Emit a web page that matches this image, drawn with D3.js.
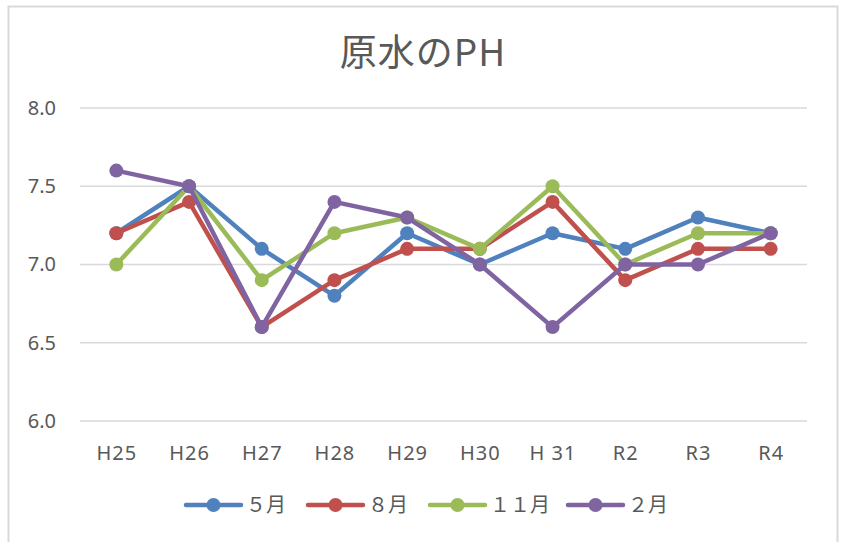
<!DOCTYPE html>
<html>
<head>
<meta charset="utf-8">
<script src="https://cdn.jsdelivr.net/npm/d3@7"></script>
<style>
  body { margin: 0; background: #fff; }
  text { fill: #595959; }
  .y-axis text { font-family: 'Noto Sans', sans-serif; font-size: 20px; }
  .x-axis text { font-family: 'Liberation Sans Narrow', 'Noto Sans', sans-serif; font-size: 20px; letter-spacing: 1px; }
</style>
</head>
<body>
<div id="chart"></div>
<script>
// chart data
var years = ["H25", "H26", "H27", "H28", "H29", "H30", "H 31", "R2", "R3", "R4"];
var seriesNames = ["５月", "８月", "１１月", "２月"];
var may = [7.2, 7.5, 7.1, 6.8, 7.2, 7.0, 7.2, 7.1, 7.3, 7.2];
var aug = [7.2, 7.4, 6.6, 6.9, 7.1, 7.1, 7.4, 6.9, 7.1, 7.1];
var nov = [7.0, 7.5, 6.9, 7.2, 7.3, 7.1, 7.5, 7.0, 7.2, 7.2];
var feb = [7.6, 7.5, 6.6, 7.4, 7.3, 7.0, 6.6, 7.0, 7.0, 7.2];
var yTicks = [6.0, 6.5, 7.0, 7.5, 8.0];

var colors = ["#4f81bd", "#c0504d", "#9bbb59", "#8064a2"];
var allSeries = [may, aug, nov, feb];

var svgWidth = 849;
var svgHeight = 542;

var margin = { top: 108, right: 42, bottom: 121, left: 80 };
var width = svgWidth - margin.left - margin.right;
var height = svgHeight - margin.top - margin.bottom;

var svg = d3.select("#chart")
  .append("svg")
  .attr("width", svgWidth)
  .attr("height", svgHeight);

// outer frame (no bottom edge visible)
svg.append("path")
  .attr("d", "M8.5," + svgHeight + "V6.5H837.5V" + svgHeight)
  .attr("fill", "none")
  .attr("stroke", "#d9d9d9")
  .attr("stroke-width", 2);

// title
svg.append("text")
  .attr("x", 423)
  .attr("y", 66)
  .attr("text-anchor", "middle")
  .style("font-family", "'Noto Sans CJK JP', sans-serif")
  .style("font-size", "37px")
  .style("letter-spacing", "1px")
  .text("原水のPH");

var chartGroup = svg.append("g")
  .attr("transform", `translate(${margin.left}, ${margin.top})`);

var xScale = d3.scalePoint()
  .domain(years)
  .range([0, width])
  .padding(0.5);

var yScale = d3.scaleLinear()
  .domain([6.0, 8.0])
  .range([height, 0]);

// gridlines
chartGroup.append("g")
  .selectAll("line")
  .data(yTicks)
  .enter()
  .append("line")
  .attr("x1", 0)
  .attr("x2", width)
  .attr("y1", d => yScale(d))
  .attr("y2", d => yScale(d))
  .attr("stroke", "#d9d9d9")
  .attr("stroke-width", 1.5);

// y axis labels
var leftAxis = d3.axisLeft(yScale)
  .tickValues(yTicks)
  .tickFormat(d3.format(".1f"))
  .tickSize(0)
  .tickPadding(24);

chartGroup.append("g")
  .attr("class", "y-axis")
  .call(leftAxis)
  .call(g => g.select(".domain").remove())
  .attr("font-size", null)
  .attr("font-family", null);

// x axis labels
var bottomAxis = d3.axisBottom(xScale)
  .tickSize(0)
  .tickPadding(25);

chartGroup.append("g")
  .attr("class", "x-axis")
  .attr("transform", `translate(0, ${height})`)
  .call(bottomAxis)
  .call(g => g.select(".domain").remove())
  .attr("font-size", null)
  .attr("font-family", null);

var line = d3.line()
  .x((d, i) => xScale(years[i]))
  .y(d => yScale(d));

allSeries.forEach(function(values, k) {
  var g = chartGroup.append("g");
  g.append("path")
    .datum(values)
    .attr("d", line)
    .attr("fill", "none")
    .attr("stroke", colors[k])
    .attr("stroke-width", 4.5)
    .attr("stroke-linejoin", "round");
  g.selectAll("circle")
    .data(values)
    .enter()
    .append("circle")
    .attr("cx", (d, i) => xScale(years[i]))
    .attr("cy", d => yScale(d))
    .attr("r", 7)
    .attr("fill", colors[k]);
});

// legend
var legendX = [186, 308, 430, 568];
var legend = svg.append("g")
  .attr("transform", "translate(0, 505)");

seriesNames.forEach(function(name, k) {
  var item = legend.append("g")
    .attr("transform", `translate(${legendX[k]}, 0)`);
  item.append("line")
    .attr("x1", 0)
    .attr("x2", 55)
    .attr("stroke", colors[k])
    .attr("stroke-width", 4.5)
    .attr("stroke-linecap", "round");
  item.append("circle")
    .attr("cx", 27.5)
    .attr("r", 7)
    .attr("fill", colors[k]);
  item.append("text")
    .attr("x", 60)
    .attr("y", 7)
    .style("font-family", "'Noto Sans CJK JP', sans-serif")
    .style("font-size", "20px")
    .text(name);
});
</script>
</body>
</html>
